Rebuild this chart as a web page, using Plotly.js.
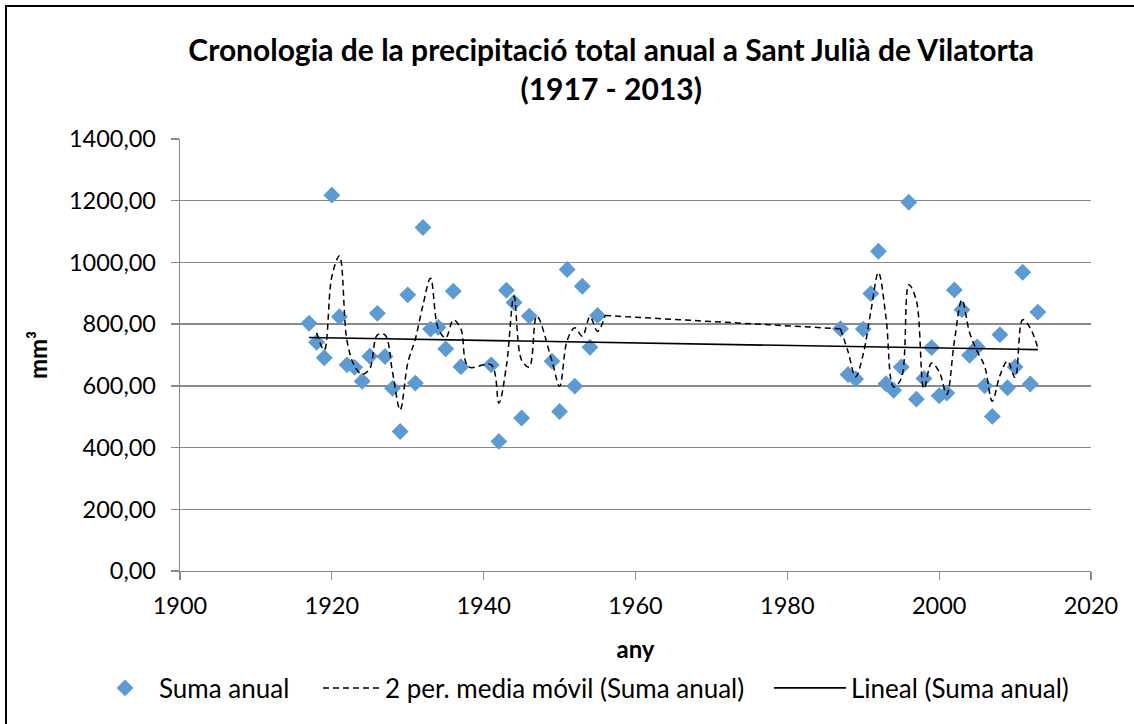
<!DOCTYPE html>
<html>
<head>
<meta charset="utf-8">
<script src="https://cdn.plot.ly/plotly-3.0.1.min.js"></script>
<style>
html,body{margin:0;padding:0;background:#fff;}
#wrap{position:relative;width:1134px;height:724px;overflow:hidden;}
#chart{position:absolute;left:0;top:0;width:1134px;height:724px;}
#frame{position:absolute;left:5px;top:5px;width:1140px;height:730px;border:2px solid #000;pointer-events:none;}
</style>
</head>
<body>
<div id="wrap"><div id="chart"></div><div id="frame"></div></div>
<script>
// Years with recorded annual totals
var years = [1917,1918,1919,1920,1921,1922,1923,1924,1925,1926,1927,1928,1929,1930,1931,1932,1933,1934,1935,1936,1937,
             1941,1942,1943,1944,1945,1946,
             1949,1950,1951,1952,1953,1954,1955,
             1987,1988,1989,1990,1991,1992,1993,1994,1995,1996,1997,1998,1999,2000,2001,2002,2003,2004,2005,2006,2007,2008,2009,2010,2011,2012,2013];
// Annual precipitation (Suma anual)
var sumaAnual = [803,741,691,1218,824,668,660,615,696,835,695,592,452,895,609,1113,784,790,720,907,662,
                 668,420,910,870,496,826,
                 680,517,977,599,923,725,828,
                 785,637,622,784,899,1036,607,586,661,1195,557,624,724,568,577,911,847,699,726,600,501,766,594,661,968,606,839];

var xTicks = [1900,1920,1940,1960,1980,2000,2020];
var yTicks = [0,200,400,600,800,1000,1200,1400];

// 2-period moving average (blank years ignored, as the spreadsheet does)
var lookup = {};
years.forEach(function(y,i){ lookup[y] = sumaAnual[i]; });
var maX = [], maY = [];
for (var y = years[0] + 1; y <= years[years.length-1]; y++) {
  var vals = [];
  if (lookup[y-1] !== undefined) vals.push(lookup[y-1]);
  if (lookup[y] !== undefined) vals.push(lookup[y]);
  if (vals.length) { maX.push(y); maY.push(vals.reduce(function(a,b){return a+b;},0)/vals.length); }
}
// split into smooth runs; long gaps are bridged with a straight segment
var runs = [], cur = {x:[maX[0]], y:[maY[0]]};
for (var k = 1; k < maX.length; k++) {
  if (maX[k] - maX[k-1] > 5) { runs.push(cur); runs.push({x:[maX[k-1], maX[k]], y:[maY[k-1], maY[k]], straight:true}); cur = {x:[], y:[]}; }
  cur.x.push(maX[k]); cur.y.push(maY[k]);
}
runs.push(cur);

// Linear trend (least squares)
var n = years.length, sx=0, sy=0, sxx=0, sxy=0;
for (var i=0;i<n;i++){ sx+=years[i]; sy+=sumaAnual[i]; sxx+=years[i]*years[i]; sxy+=years[i]*sumaAnual[i]; }
var slope = (n*sxy - sx*sy)/(n*sxx - sx*sx);
var icpt = (sy - slope*sx)/n;
var trX = [years[0], years[n-1]];
var trY = trX.map(function(x){ return icpt + slope*x; });

var FONT = 'Lato, "Open Sans", sans-serif';
var GRID = '#8a8a8a';

var traces = [
  {x: years, y: sumaAnual, type:'scatter', mode:'markers', name:'Suma anual', legend:'legend',
   marker:{symbol:'diamond', color:'#5B9BD5', size:13, line:{width:0}}}
];
runs.forEach(function(r, idx){
  traces.push({x:r.x, y:r.y, type:'scatter', mode:'lines', name:'2 per. media móvil (Suma anual)',
    legend:'legend2', legendgroup:'ma', showlegend: idx===0,
    line:{color:'#000', width:1.5, dash:'6px,4px', shape: r.straight ? 'linear' : 'spline', smoothing:1}});
});
traces.push({x: trX, y: trY, type:'scatter', mode:'lines', name:'Lineal (Suma anual)', legend:'legend3',
   line:{color:'#000', width:1.6}});

function px2paper(p){ return (p - 180) / 911; }
var legY = (571 - 688) / 432;
var legFont = {family:FONT, size:26, color:'#000'};

var layout = {
  width:1134, height:724,
  paper_bgcolor:'#fff', plot_bgcolor:'#fff',
  separators:',.',
  margin:{l:180, r:43, t:139, b:153},
  font:{family:FONT, size:23.5, color:'#000'},
  title:{text:'<b>Cronologia de la precipitació total anual a Sant Julià de Vilatorta<br>(1917 - 2013)</b>',
         font:{family:FONT, size:30, color:'#000'}, x:0.539, xanchor:'center',
         yref:'container', y:0.916, yanchor:'top'},
  xaxis:{range:[1900,2020], tickvals:xTicks, ticktext:xTicks.map(String),
         showgrid:false, zeroline:false, showline:true, linecolor:GRID, linewidth:1.3,
         ticks:'outside', ticklen:8, tickcolor:GRID, tickwidth:1.3, ticklabelstandoff:5,
         tickfont:{family:FONT, size:23.5},
         title:{text:'<b>any</b>', font:{family:FONT, size:24}, standoff:23}},
  yaxis:{range:[0,1400], tickvals:yTicks, tickformat:'.2f',
         showgrid:true, gridcolor:GRID, gridwidth:1.3, zeroline:false,
         showline:true, linecolor:GRID, linewidth:1.3,
         ticks:'outside', ticklen:8, tickcolor:GRID, tickwidth:1.3, ticklabelstandoff:10,
         tickfont:{family:FONT, size:23.5},
         title:{text:'<b>mm³</b>', font:{family:FONT, size:24}, standoff:14}},
  showlegend:true,
  legend:{orientation:'h', x:px2paper(91), xanchor:'left', y:legY, yanchor:'middle',
          font:legFont, itemwidth:58, bgcolor:'rgba(0,0,0,0)'},
  legend2:{orientation:'h', x:px2paper(318), xanchor:'left', y:legY, yanchor:'middle',
          font:legFont, itemwidth:57, bgcolor:'rgba(0,0,0,0)'},
  legend3:{orientation:'h', x:px2paper(769), xanchor:'left', y:legY, yanchor:'middle',
          font:legFont, itemwidth:72, bgcolor:'rgba(0,0,0,0)'}
};

Plotly.newPlot('chart', traces, layout, {displayModeBar:false, staticPlot:true});
</script>
</body>
</html>
